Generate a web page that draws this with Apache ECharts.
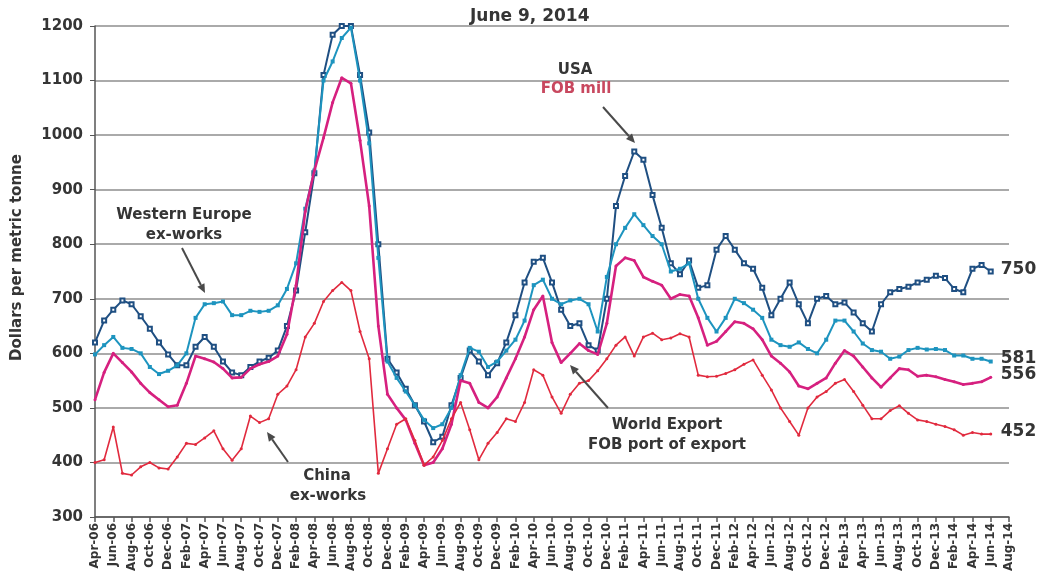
<!DOCTYPE html>
<html><head><meta charset="utf-8">
<script src="https://cdn.jsdelivr.net/npm/echarts@6/dist/echarts.min.js"></script>
<style>html,body{margin:0;padding:0;background:#fff}#c{width:1039px;height:582px}</style>
</head><body><div id="c"></div>
<script>
const months = ['Apr-06','May-06','Jun-06','Jul-06','Aug-06','Sep-06','Oct-06','Nov-06','Dec-06',
'Jan-07','Feb-07','Mar-07','Apr-07','May-07','Jun-07','Jul-07','Aug-07','Sep-07','Oct-07','Nov-07','Dec-07',
'Jan-08','Feb-08','Mar-08','Apr-08','May-08','Jun-08','Jul-08','Aug-08','Sep-08','Oct-08','Nov-08','Dec-08',
'Jan-09','Feb-09','Mar-09','Apr-09','May-09','Jun-09','Jul-09','Aug-09','Sep-09','Oct-09','Nov-09','Dec-09',
'Jan-10','Feb-10','Mar-10','Apr-10','May-10','Jun-10','Jul-10','Aug-10','Sep-10','Oct-10','Nov-10','Dec-10',
'Jan-11','Feb-11','Mar-11','Apr-11','May-11','Jun-11','Jul-11','Aug-11','Sep-11','Oct-11','Nov-11','Dec-11',
'Jan-12','Feb-12','Mar-12','Apr-12','May-12','Jun-12','Jul-12','Aug-12','Sep-12','Oct-12','Nov-12','Dec-12',
'Jan-13','Feb-13','Mar-13','Apr-13','May-13','Jun-13','Jul-13','Aug-13','Sep-13','Oct-13','Nov-13','Dec-13',
'Jan-14','Feb-14','Mar-14','Apr-14','May-14','Jun-14','Jul-14','Aug-14'];

const usaFobMill = [620,660,680,697,690,668,645,620,598,578,
578,612,630,612,585,565,560,575,585,592,
605,650,715,822,930,1110,1184,1200,1200,1110,
1005,800,590,565,535,505,475,437,447,505,
555,605,585,560,582,620,670,730,768,775,
730,680,650,655,615,605,700,870,925,970,
955,890,830,765,745,770,720,725,790,815,
790,765,755,720,670,700,730,690,655,700,
705,690,693,675,655,640,690,712,718,722,
730,735,742,738,718,712,755,762,750];

const westernEurope = [598,615,630,610,608,600,575,562,568,578,
600,665,690,692,695,670,670,678,676,678,
688,718,765,865,935,1100,1135,1178,1197,1100,
985,775,585,555,530,505,478,463,470,500,
560,610,603,575,585,605,625,660,725,735,
700,690,697,700,690,640,740,800,830,855,
835,815,800,750,755,765,700,665,640,665,
700,692,680,665,625,615,612,620,608,600,
625,660,660,640,618,606,603,590,594,606,
610,607,608,606,596,596,590,590,585];

const worldExport = [515,565,600,583,566,545,528,515,502,505,
545,595,590,584,572,555,556,572,580,585,
595,635,725,860,935,995,1060,1105,1095,990,
870,650,525,500,478,435,395,400,425,470,
550,545,510,500,520,555,590,630,680,705,
620,583,600,618,605,598,655,760,775,770,
740,732,725,700,708,705,665,615,622,640,
658,655,645,625,595,582,566,540,535,545,
555,582,605,595,575,555,538,555,572,570,
558,560,557,552,548,543,545,548,556];

const chinaExWorks = [400,405,465,380,377,392,400,390,388,410,
435,433,445,458,425,404,425,485,473,480,
525,540,570,630,655,695,715,730,715,640,
590,380,425,470,480,440,395,410,440,480,
510,460,405,435,455,480,475,510,570,560,
520,490,525,545,550,568,590,615,630,595,
630,637,625,628,636,630,560,557,558,563,
570,580,588,560,533,500,475,450,500,520,
530,545,552,530,505,480,480,495,504,490,
478,475,470,466,460,450,455,452,452];

const endTexts = ['750','581','556','452'];
const yTicks = {min:300, max:1200, step:100};

const FONT = 'DejaVu Sans';
const TXT = '#353535';

function arrow(x1,y1,x2,y2){
  const a = Math.atan2(y2-y1,x2-x1), L=9, W=4;
  const bx = x2 - L*Math.cos(a), by = y2 - L*Math.sin(a);
  return [
    {type:'line', shape:{x1:x1,y1:y1,x2:bx,y2:by}, style:{stroke:'#4a4a4a',lineWidth:2}, z:50},
    {type:'polygon', shape:{points:[[x2,y2],[bx+W*Math.sin(a),by-W*Math.cos(a)],[bx-W*Math.sin(a),by+W*Math.cos(a)]]}, style:{fill:'#4a4a4a'}, z:50}
  ];
}
function txt(x,y,s,color){
  return {type:'text', x:x, y:y, z:50, style:{text:s, fill:color||TXT, font:'bold 15px "DejaVu Sans"', textAlign:'center', textVerticalAlign:'middle'}};
}

const chart = echarts.init(document.getElementById('c'));

function mkSeries(name, data, color, sym, symSize, lw, idx, dy){
  return {
    name:name, type:'line', data:data, smooth:false,
    symbol:sym, symbolSize:symSize, showAllSymbol:true,
    lineStyle:{color:color, width:lw},
    itemStyle:{color:color, borderWidth: sym==='emptyRect'?1.3:0},
    emphasis:{disabled:true},
    endLabel:{show:true, formatter:function(){return endTexts[idx];}, distance:10, offset:[0,dy],
      fontFamily:FONT, fontWeight:'bold', fontSize:17, color:TXT},
    z: 10+idx
  };
}

chart.setOption({
  animation:false,
  backgroundColor:'#fff',
  title:{text:'June 9, 2014', left:465, top:3, textStyle:{fontFamily:FONT, fontWeight:'bold', fontSize:17, color:TXT}},
  grid:{left:95, right:30, top:26, bottom:65, containLabel:false},
  xAxis:{
    type:'category', data:months, boundaryGap:false,
    axisLine:{show:true, lineStyle:{color:'#555', width:1.5}},
    axisTick:{show:true, interval:1, length:5, lineStyle:{color:'#555', width:1.5}},
    axisLabel:{interval:1, rotate:90, margin:6, fontFamily:FONT, fontWeight:'bold', fontSize:12, color:TXT},
    splitLine:{show:false}
  },
  yAxis:{
    type:'value', min:yTicks.min, max:yTicks.max, interval:yTicks.step,
    name:'Dollars per metric tonne', nameLocation:'middle', nameGap:70, nameRotate:90,
    nameTextStyle:{fontFamily:FONT, fontWeight:'bold', fontSize:15, color:TXT, padding:[0,0,0,28]},
    axisLine:{show:true, lineStyle:{color:'#555', width:1.5}},
    axisTick:{show:true, length:5, lineStyle:{color:'#555'}},
    axisLabel:{margin:12, fontFamily:FONT, fontWeight:'bold', fontSize:15, color:TXT, formatter:function(v){return String(v);}},
    splitLine:{show:true, lineStyle:{color:'#8e8e8e', width:1.5}}
  },
  series:[
    mkSeries('China ex-works', chinaExWorks, '#e12a3e', 'circle', 3, 1.6, 3, -2),
    mkSeries('World Export FOB port of export', worldExport, '#d6207f', 'circle', 3, 2.6, 2, -3),
    mkSeries('Western Europe ex-works', westernEurope, '#1d94bf', 'rect', 4, 2, 1, -3),
    mkSeries('USA FOB mill', usaFobMill, '#1f4f82', 'emptyRect', 4, 2, 0, -2)
  ],
  graphic:[].concat(
    arrow(182,248,205,293),
    arrow(603,107,635,143),
    arrow(608,408,570,365),
    arrow(288,462,267,432),
    [txt(184,215,'Western Europe'), txt(184,235,'ex-works'),
     txt(575,70,'USA'), txt(576,89,'FOB mill','#c8485f'),
     txt(667,425,'World Export'), txt(667,445,'FOB port of export'),
     txt(327,476,'China'), txt(328,496,'ex-works')]
  )
});
</script>
</body></html>
